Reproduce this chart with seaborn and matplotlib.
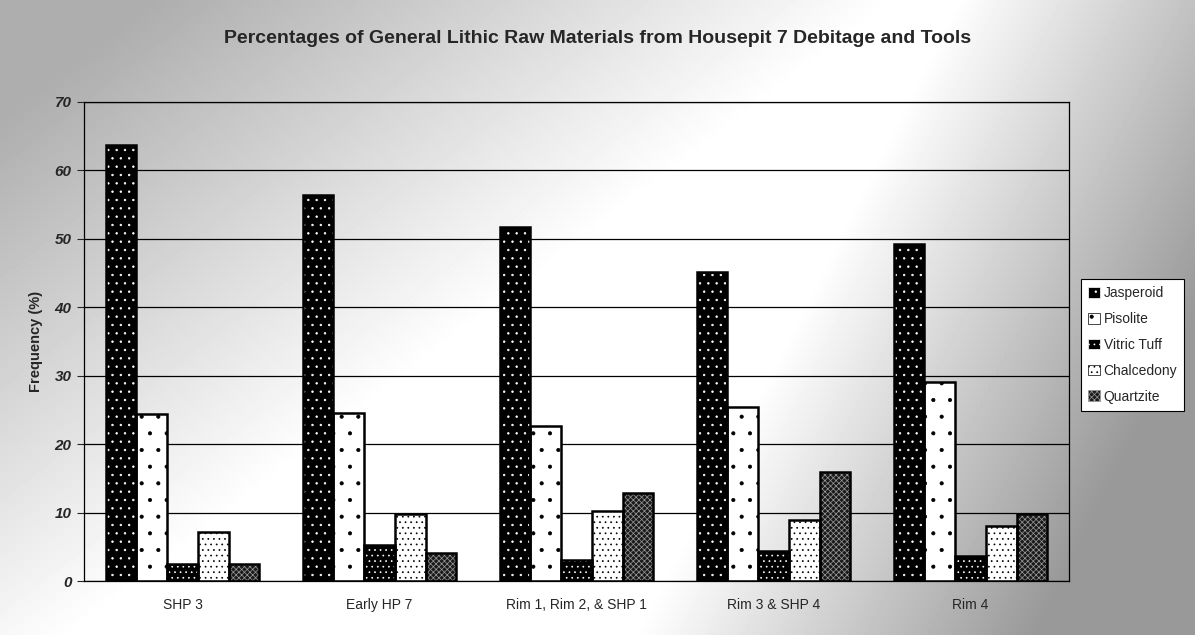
import numpy as np
import pandas as pd
import seaborn as sns
import matplotlib
matplotlib.use('Agg')
import matplotlib.pyplot as plt
from matplotlib.patches import Patch, Rectangle

# Data
groups = ["SHP 3", "Early HP 7", "Rim 1, Rim 2, & SHP 1", "Rim 3 & SHP 4", "Rim 4"]
materials = ["Jasperoid", "Pisolite", "Vitric Tuff", "Chalcedony", "Quartzite"]
jasperoid = [63.7, 56.4, 51.7, 45.2, 49.3]
pisolite = [24.4, 24.6, 22.7, 25.5, 29.1]
vitric_tuff = [2.5, 5.3, 3.1, 4.4, 3.7]
chalcedony = [7.2, 9.8, 10.3, 8.9, 8.0]
quartzite = [2.5, 4.1, 12.8, 16.0, 9.8]
y_ticks = [0, 10, 20, 30, 40, 50, 60, 70]

values = [jasperoid, pisolite, vitric_tuff, chalcedony, quartzite]
df = pd.DataFrame({
    "Group": [g for _ in materials for g in groups],
    "Material": [m for m in materials for _ in groups],
    "Value": [v for vals in values for v in vals],
})

# fill / hatch colour / hatch for each material
faces = ["black", "white", "black", "white", "#1a1a1a"]
hatch_cols = ["white", "black", "white", "black", "#9a9a9a"]
hatches = ["..", ".", "...", "...", "xxxxxx"]

sns.set_style("white")
plt.rcParams['font.family'] = ['Liberation Sans', 'DejaVu Sans']
plt.rcParams['hatch.linewidth'] = 0.5

fig = plt.figure(figsize=(11.95, 6.35), dpi=100)

# scanned grey background
bg = fig.add_axes([0, 0, 1, 1], zorder=-10)
xx, yy = np.meshgrid(np.linspace(0, 1, 300), np.linspace(0, 1, 160))
d1 = np.clip(1.2 - xx * 1.6 - yy * 1.1, 0, 1)
d2 = np.clip((xx - 0.72) * 3 + (yy - 0.3) * 0.8, 0, 1)
shade = 1 - 0.32 * d1 - 0.4 * d2
bg.imshow(shade, cmap="gray", vmin=0, vmax=1, aspect="auto", extent=[0, 1, 1, 0])
bg.axis("off")

ax = fig.add_axes([0.0703, 0.085, 0.8243, 0.7544])
ax.set_facecolor("none")

sns.barplot(data=df, x="Group", y="Value", hue="Material", hue_order=materials,
            order=groups, palette=faces, width=0.78, legend=False, ax=ax,
            linewidth=0, errorbar=None)

for i, cont in enumerate(ax.containers):
    for p in cont:
        p.set_facecolor(faces[i])
        p.set_edgecolor(hatch_cols[i])
        p.set_hatch(hatches[i])
        p.set_linewidth(0)
        ax.add_patch(Rectangle(p.get_xy(), p.get_width(), p.get_height(),
                               fill=False, edgecolor="black", linewidth=1.8, zorder=3))

ax.set_ylim(0, 70)
ax.set_xlim(-0.5, len(groups) - 0.5)
ax.set_yticks(y_ticks)
ax.set_yticklabels([str(t) for t in y_ticks], fontsize=11, fontweight="bold", style="italic")
ax.set_xticks(range(len(groups)))
ax.set_xticklabels(groups, fontsize=10)
ax.set_xticks(np.arange(-0.5, len(groups)), minor=True)
ax.tick_params(axis="x", which="major", length=0, pad=12)
ax.tick_params(axis="x", which="minor", length=4, width=0.8, direction="out")
ax.tick_params(axis="y", length=5, width=0.8, direction="out", pad=4, left=True)
ax.yaxis.grid(True, color="black", linewidth=0.9)
ax.set_axisbelow(True)
for s in ax.spines.values():
    s.set_color("black")
    s.set_linewidth(0.9)
ax.set_xlabel("")
ax.set_ylabel("Frequency (%)", fontsize=10.5, fontweight="bold", labelpad=8)

fig.text(0.5, 0.94, "Percentages of General Lithic Raw Materials from Housepit 7 Debitage and Tools",
         ha="center", va="center", fontsize=14, fontweight="bold")

handles = [Patch(facecolor=faces[i], edgecolor=hatch_cols[i], hatch=hatches[i], linewidth=0.5)
           for i in range(len(materials))]
leg = fig.legend(handles, materials, loc="upper left", bbox_to_anchor=(0.905, 0.56),
                 fontsize=10, frameon=True, fancybox=False, framealpha=1,
                 edgecolor="black", handlelength=0.8, handleheight=0.8,
                 handletextpad=0.3, labelspacing=0.85, borderpad=0.5, borderaxespad=0)
leg.get_frame().set_linewidth(0.8)

fig.savefig("out.png", dpi=100)
